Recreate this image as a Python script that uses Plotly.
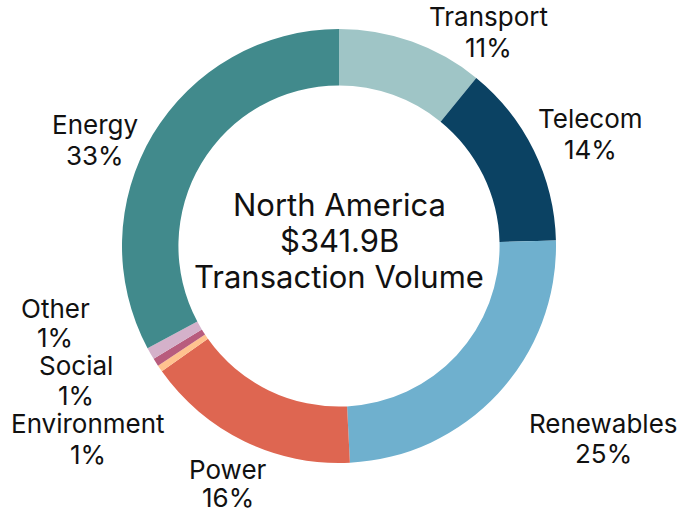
import plotly.graph_objects as go

W, H = 680, 510

sectors = ["Transport", "Telecom", "Renewables", "Power", "Environment", "Social", "Other", "Energy"]
shares = [10.9, 13.7, 24.6, 16.0, 0.5, 0.6, 0.9, 32.8]
share_labels = ["11%", "14%", "25%", "16%", "1%", "1%", "1%", "33%"]
colors = ["#9FC5C6", "#0B4263", "#6FB0CE", "#DE6651", "#FFC28F", "#B85C7D", "#D4B1CA", "#418A8C"]
center_lines = ["North America", "$341.9B", "Transaction Volume"]

# label positions in pixels: x centre, y of first line, y of second line
label_pos = {
    "Transport": (488, 16.5, 47),
    "Telecom": (590, 118, 149),
    "Renewables": (603, 423, 453),
    "Power": (228, 469, 497),
    "Environment": (88, 423, 454),
    "Social": (76, 365, 395),
    "Other": (55, 308, 337.5),
    "Energy": (95, 124.5, 155),
}
center_y = [204.5, 240, 276.5]

FONT = "Inter, Roboto, sans-serif"
LABEL_SIZE = 26
CENTER_SIZE = 31

fig = go.Figure(go.Pie(
    labels=sectors,
    values=shares,
    hole=0.74,
    sort=False,
    direction="clockwise",
    rotation=0,
    marker=dict(colors=colors, line=dict(width=0)),
    textinfo="none",
    showlegend=False,
    domain=dict(x=[122 / W, 556 / W], y=[1 - 463 / H, 1 - 29 / H]),
))

def ann(text, px, py, size):
    return dict(
        x=px / W, y=1 - py / H, xref="paper", yref="paper",
        text=text, showarrow=False,
        xanchor="center", yanchor="middle", align="center",
        font=dict(family=FONT, size=size, color="#111111"),
    )

annotations = []
for s, lab in zip(sectors, share_labels):
    px, y1, y2 = label_pos[s]
    annotations.append(ann(s, px, y1, LABEL_SIZE))
    annotations.append(ann(lab, px, y2, LABEL_SIZE))

for line, cy in zip(center_lines, center_y):
    annotations.append(ann(line, 339, cy, CENTER_SIZE))

fig.update_layout(
    width=W, height=H,
    margin=dict(l=0, r=0, t=0, b=0),
    paper_bgcolor="white", plot_bgcolor="white",
    annotations=annotations,
)

fig.write_html("out.html", config={"displayModeBar": False},
               post_script="document.body.style.margin='0';")
